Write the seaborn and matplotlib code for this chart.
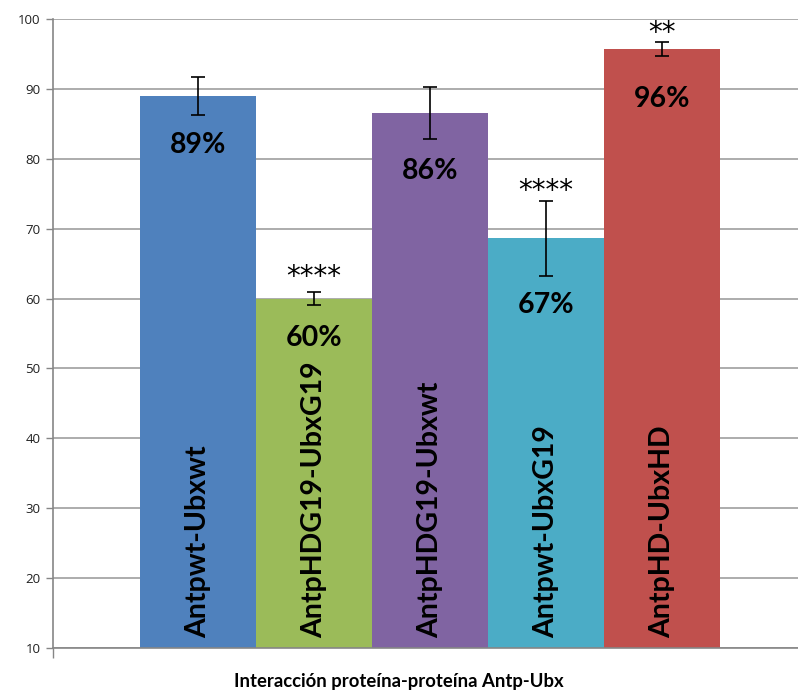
import matplotlib
matplotlib.use("Agg")
import matplotlib.pyplot as plt
import seaborn as sns
import pandas as pd

categories = ["Antpwt-Ubxwt", "AntpHDG19-UbxG19", "AntpHDG19-Ubxwt", "Antpwt-UbxG19", "AntpHD-UbxHD"]
values = [89.0, 60.0, 86.5, 68.6, 95.7]
errors = [2.7, 0.9, 3.7, 5.4, 1.0]
pct_labels = ["89%", "60%", "86%", "67%", "96%"]
pct_label_y = [82.0, 54.4, 78.2, 59.1, 88.6]
sig_labels = ["", "****", "", "****", "**"]
sig_y = [None, 63.7, None, 76.0, 98.6]
colors = ["#4F81BD", "#9BBB59", "#8064A2", "#4BACC6", "#C0504D"]
yticks = [10, 20, 30, 40, 50, 60, 70, 80, 90, 100]
xlabel = "Interacción proteína-proteína Antp-Ubx"

sns.set_theme(style="white")
plt.rcParams["font.family"] = ["Lato", "DejaVu Sans"]

df = pd.DataFrame({"cat": categories, "val": values})

fig = plt.figure(figsize=(7.98, 6.91), dpi=100)
ax = fig.add_axes([53 / 798, 1 - 648 / 691, 1 - 53 / 798, (648 - 19) / 691])

sns.barplot(data=df, x="cat", y="val", hue="cat", palette=colors, dodge=False,
            width=1.0, errorbar=None, legend=False, ax=ax, zorder=2,
            linewidth=0, saturation=1)
ax.errorbar(range(len(values)), values, yerr=errors, fmt="none", ecolor="black",
            elinewidth=1.2, capsize=5, capthick=1.2, zorder=4)

ax.set_ylim(10, 100)
ax.set_xlim(-1.25, 5.17)
ax.set_yticks(yticks)
ax.set_yticklabels([str(t) for t in yticks], fontsize=9.5, color="#202020",
                   family=["Open Sans", "DejaVu Sans"])
ax.yaxis.grid(True, color="#A6A6A6", linewidth=1.3, zorder=0)
ax.set_axisbelow(True)
ax.tick_params(axis="y", direction="out", length=5, color="#868686", width=1, pad=4, left=True)
ax.set_xticks([-1.25])
ax.set_xticklabels([""])
ax.tick_params(axis="x", direction="out", length=7, color="#868686", width=1, bottom=True)
for s in ["top", "right"]:
    ax.spines[s].set_visible(False)
for s in ["left", "bottom"]:
    ax.spines[s].set_color("#868686")
    ax.spines[s].set_linewidth(1.2)

ax.set_xlabel("")
ax.set_ylabel("")

for i, cat in enumerate(categories):
    ax.annotate(cat, xy=(i, 10), xytext=(0, 7), textcoords="offset points",
                rotation=90, ha="center", va="bottom", fontsize=20.5,
                fontweight="bold", color="black", zorder=5)
    ax.text(i, pct_label_y[i], pct_labels[i], ha="center", va="center",
            fontsize=20.5, fontweight="bold", color="black", zorder=5)
    if sig_labels[i]:
        ax.annotate(sig_labels[i], xy=(i, sig_y[i]), xytext=(0, -9),
                    textcoords="offset points", ha="center", va="baseline",
                    fontsize=20, color="black", zorder=5,
                    family=["DejaVu Sans"])

fig.text(0.5, 1 - 681 / 691, xlabel, ha="center", va="center", fontsize=13.3,
         fontweight="bold", color="black")

fig.savefig("out.png", dpi=100, facecolor="white")
